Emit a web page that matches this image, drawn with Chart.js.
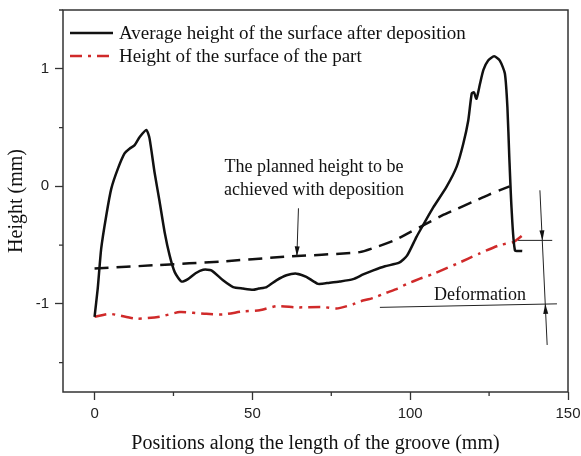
<!DOCTYPE html>
<html>
<head>
<meta charset="utf-8">
<script src="https://cdn.jsdelivr.net/npm/chart.js@4"></script>
<style>
  html, body { margin: 0; padding: 0; background: #fff; }
  #wrap { width: 581px; height: 456px; }
</style>
</head>
<body>
<div id="wrap"><canvas id="heightChart" width="581" height="456"></canvas></div>
<script>
// average height of the surface after deposition
const avgX = [0, 1.0, 2.1, 3.7, 5.3, 7.4, 9.5, 11.1, 12.7, 14.3, 16.4, 17.4, 19.0, 20.6, 22.2, 23.8, 25.4, 27.5, 29.6, 32.0, 34.4, 37.0, 40.7, 43.9, 47.0, 50.2, 52.0, 54.5, 57.6, 60.8, 64.0, 67.1, 70.8, 74.5, 77.7, 81.9, 85.1, 88.3, 92.0, 96.5, 99.0, 102.0, 104.1, 107.3, 111.5, 114.7, 116.8, 118.4, 119.5, 120.2, 121.0, 122.1, 123.2, 124.7, 126.6, 128.4, 130.0, 130.8, 131.4, 132.1, 133.2, 135.5];
const avgY = [-1.11, -0.87, -0.53, -0.25, -0.02, 0.15, 0.28, 0.32, 0.35, 0.42, 0.48, 0.41, 0.12, -0.13, -0.39, -0.59, -0.73, -0.81, -0.79, -0.74, -0.71, -0.715, -0.80, -0.857, -0.87, -0.88, -0.87, -0.857, -0.80, -0.757, -0.743, -0.77, -0.83, -0.82, -0.81, -0.79, -0.75, -0.715, -0.68, -0.65, -0.59, -0.43, -0.33, -0.18, -0.005, 0.165, 0.36, 0.56, 0.79, 0.80, 0.745, 0.87, 0.99, 1.07, 1.106, 1.07, 0.96, 0.675, 0.25, -0.18, -0.545, -0.55];

// planned height to be achieved with deposition
const plannedX = [0, 20, 40, 60, 84, 90, 95, 100, 105, 110, 115, 120, 125, 131.5];
const plannedY = [-0.70, -0.67, -0.64, -0.60, -0.56, -0.51, -0.46, -0.39, -0.32, -0.25, -0.19, -0.13, -0.07, 0.0];

// height of the surface of the part
const partX = [0, 4.8, 13.2, 20.6, 27.0, 35.4, 40.7, 47.1, 52.3, 57.6, 64.0, 72.4, 76.6, 81.9, 84.0, 88.3, 92.0, 96.0, 99.0, 103.1, 107.3, 114.7, 122.1, 128.4, 132.7, 136.4];
const partY = [-1.11, -1.085, -1.126, -1.11, -1.07, -1.085, -1.09, -1.064, -1.055, -1.02, -1.03, -1.027, -1.04, -1.004, -0.98, -0.95, -0.91, -0.87, -0.83, -0.786, -0.745, -0.66, -0.57, -0.50, -0.474, -0.40];

// labelled ticks and the short unlabelled ones between them
const xTicks = [0, 50, 100, 150];
const xMinorTicks = [25, 75, 125];
const yTicks = [-1, 0, 1];
const yMinorTicks = [-1.5, -0.5, 0.5, 1.5];

const legendLabels = ["Average height of the surface after deposition", "Height of the surface of the part"];
const xTitle = "Positions along the length of the groove (mm)";
const yTitle = "Height (mm)";

const serif = "'Liberation Serif', 'Times New Roman', serif";
const sans = "'Liberation Sans', Arial, sans-serif";
const axisColor = "#333";
const redColor = "#d02a2a";

const toPoints = (xs, ys) => xs.map((x, i) => ({ x: x, y: ys[i] }));

// draws the framed box, minor ticks, the legend and the annotations
const extrasPlugin = {
  id: "extras",
  afterDatasetsDraw(chart) {
    const { ctx, chartArea, scales } = chart;
    const px = (v) => scales.x.getPixelForValue(v);
    const py = (v) => scales.y.getPixelForValue(v);

    ctx.save();
    ctx.strokeStyle = axisColor;
    ctx.lineWidth = 1.5;
    ctx.strokeRect(chartArea.left, chartArea.top, chartArea.right - chartArea.left, chartArea.bottom - chartArea.top);

    ctx.lineWidth = 1.3;
    ctx.beginPath();
    xMinorTicks.forEach((v) => {
      ctx.moveTo(px(v), chartArea.bottom);
      ctx.lineTo(px(v), chartArea.bottom + 4);
    });
    yMinorTicks.forEach((v) => {
      ctx.moveTo(chartArea.left, py(v));
      ctx.lineTo(chartArea.left - 4, py(v));
    });
    ctx.stroke();

    // legend
    const legendSets = [chart.data.datasets[0], chart.data.datasets[2]];
    legendSets.forEach((ds, i) => {
      const y = chartArea.top + 23 + i * 23;
      ctx.beginPath();
      ctx.setLineDash(ds.borderDash || []);
      ctx.strokeStyle = ds.borderColor;
      ctx.lineWidth = ds.borderWidth;
      ctx.moveTo(chartArea.left + 7, y);
      ctx.lineTo(chartArea.left + 50, y);
      ctx.stroke();
      ctx.setLineDash([]);
      ctx.fillStyle = "#111";
      ctx.font = "19px " + serif;
      ctx.textAlign = "left";
      ctx.textBaseline = "middle";
      ctx.fillText(legendLabels[i], chartArea.left + 56, y + 1);
    });

    // text annotations
    ctx.fillStyle = "#111";
    ctx.font = "18px " + serif;
    ctx.textAlign = "center";
    ctx.textBaseline = "middle";
    ctx.fillText("The planned height to be", px(69.5), py(0.162));
    ctx.fillText("achieved with deposition", px(69.5), py(-0.034));
    ctx.fillText("Deformation", px(122.1), py(-0.928));

    const line = (x1, y1, x2, y2) => {
      ctx.beginPath();
      ctx.moveTo(px(x1), py(y1));
      ctx.lineTo(px(x2), py(y2));
      ctx.stroke();
    };
    const arrowHead = (tx, ty, fx, fy) => {
      const x0 = px(tx), y0 = py(ty);
      const ang = Math.atan2(y0 - py(fy), x0 - px(fx));
      const len = 10, half = 2.5;
      ctx.beginPath();
      ctx.moveTo(x0, y0);
      ctx.lineTo(x0 - len * Math.cos(ang) + half * Math.sin(ang), y0 - len * Math.sin(ang) - half * Math.cos(ang));
      ctx.lineTo(x0 - len * Math.cos(ang) - half * Math.sin(ang), y0 - len * Math.sin(ang) + half * Math.cos(ang));
      ctx.closePath();
      ctx.fill();
    };

    ctx.strokeStyle = "#222";
    ctx.lineWidth = 1;
    line(64.6, -0.187, 64.1, -0.596);
    arrowHead(64.1, -0.596, 64.6, -0.187);

    line(90.4, -1.03, 146.5, -1.0);
    line(134.2, -0.46, 145.0, -0.46);
    line(141.1, -0.034, 143.4, -1.35);
    arrowHead(141.9, -0.46, 141.1, -0.034);
    arrowHead(142.8, -1.0, 143.4, -1.35);
    ctx.restore();
  },
};

const setTicks = (values) => (scale) => {
  scale.ticks = values.map((v) => ({ value: v }));
};

new Chart(document.getElementById("heightChart").getContext("2d"), {
  type: "line",
  data: {
    datasets: [
      {
        label: legendLabels[0],
        data: toPoints(avgX, avgY),
        borderColor: "#111",
        borderWidth: 2.5,
        pointRadius: 0,
        tension: 0.2,
      },
      {
        label: "Planned height",
        data: toPoints(plannedX, plannedY),
        borderColor: "#111",
        borderWidth: 2.5,
        borderDash: [14, 8],
        pointRadius: 0,
        tension: 0.2,
      },
      {
        label: legendLabels[1],
        data: toPoints(partX, partY),
        borderColor: redColor,
        borderWidth: 2.5,
        borderDash: [12, 6, 3, 6],
        pointRadius: 0,
        tension: 0.2,
      },
    ],
  },
  options: {
    responsive: false,
    animation: false,
    layout: { padding: { top: 10, right: 13, left: 0, bottom: 0 } },
    plugins: {
      legend: { display: false },
      tooltip: { enabled: false },
    },
    scales: {
      x: {
        type: "linear",
        min: -10,
        max: 150,
        afterFit: (scale) => {
          scale.height = 64;
          scale.paddingLeft = 0;
          scale.paddingRight = 0;
        },
        afterBuildTicks: setTicks(xTicks),
        ticks: {
          autoSkip: false,
          maxRotation: 0,
          padding: 5,
          color: "#222",
          font: { family: sans, size: 15 },
        },
        grid: { display: true, drawOnChartArea: false, drawTicks: true, tickLength: 8, tickColor: axisColor, tickWidth: 1.3 },
        border: { display: false },
        title: {
          display: true,
          text: xTitle,
          color: "#111",
          font: { family: serif, size: 20 },
          padding: { top: 0, bottom: 0 },
        },
      },
      y: {
        type: "linear",
        min: -1.75,
        max: 1.5,
        afterFit: (scale) => {
          scale.width = 63;
          scale.paddingTop = 0;
          scale.paddingBottom = 0;
        },
        afterBuildTicks: setTicks(yTicks),
        ticks: {
          autoSkip: false,
          padding: 6,
          color: "#222",
          font: { family: sans, size: 15 },
        },
        grid: { display: true, drawOnChartArea: false, drawTicks: true, tickLength: 8, tickColor: axisColor, tickWidth: 1.3 },
        border: { display: false },
        title: {
          display: true,
          text: yTitle,
          color: "#111",
          font: { family: serif, size: 20 },
          padding: { top: 5, bottom: 0 },
        },
      },
    },
  },
  plugins: [extrasPlugin],
});
</script>
</body>
</html>
